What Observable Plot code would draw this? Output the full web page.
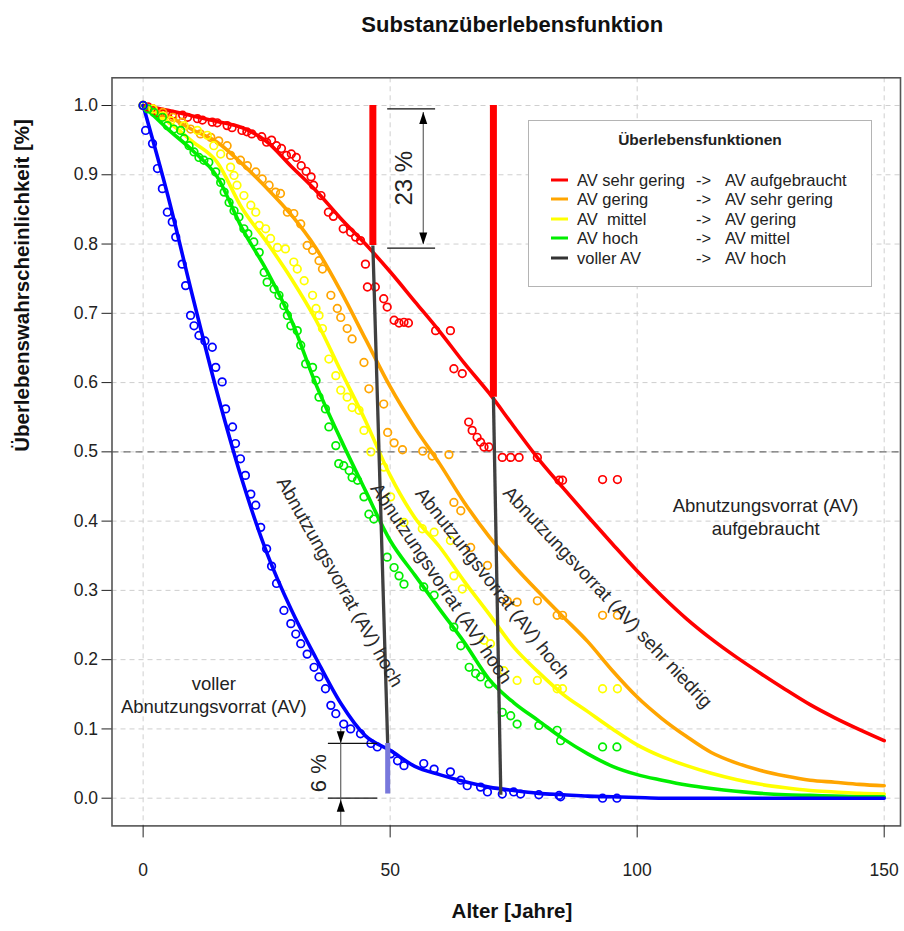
<!DOCTYPE html>
<html>
<head>
<meta charset="utf-8">
<script src="https://cdn.jsdelivr.net/npm/d3@7"></script>
<script src="https://cdn.jsdelivr.net/npm/@observablehq/plot@0.6"></script>
<style>
  body { margin: 0; background: #fff; }
  #wrap { position: relative; width: 904px; height: 931px; overflow: hidden; background: #fff; }
  #legend { position: absolute; left: 528px; top: 120px; width: 344px; height: 167px; box-sizing: border-box;
            border: 1.5px solid #b4b4b4; background: #fff; font-family: "Liberation Sans", Arial, sans-serif; color: #222; }
  #legend .t { position: absolute; white-space: pre; transform: translateY(-50%); font-size: 16.5px; line-height: 1; }
  #legend .sw { position: absolute; height: 3px; width: 17px; transform: translateY(-50%); }
</style>
</head>
<body>
<div id="wrap"></div>
<script>
// ---------------- data ----------------
const chartTitle = "Substanzüberlebensfunktion";
const xLabel = "Alter [Jahre]";
const yLabel = "Überlebenswahrscheinlichkeit [%]";
const xTicks = [0, 50, 100, 150];
const yTicks = [0, 0.1, 0.2, 0.3, 0.4, 0.5, 0.6, 0.7, 0.8, 0.9, 1.0];

// fitted survival curves, sampled every 5 years
const curveAges = [0,5,10,15,20,25,30,35,40,45,50,55,60,65,70,75,80,85,90,95,100,105,110,115,120,125,130,135,140,145,150];
const fitRed    = [1,0.993,0.985,0.977,0.968,0.948,0.912,0.877,0.837,0.8,0.76,0.717,0.674,0.628,0.585,0.537,0.49,0.448,0.407,0.367,0.328,0.292,0.259,0.23,0.204,0.18,0.157,0.135,0.116,0.099,0.083];
const fitOrange = [1,0.985,0.965,0.947,0.916,0.881,0.842,0.794,0.732,0.663,0.594,0.535,0.483,0.427,0.378,0.336,0.298,0.262,0.226,0.184,0.146,0.115,0.089,0.066,0.051,0.04,0.032,0.026,0.023,0.02,0.018];
const fitYellow = [1,0.977,0.948,0.918,0.852,0.803,0.75,0.69,0.617,0.545,0.466,0.405,0.363,0.313,0.266,0.218,0.182,0.15,0.125,0.1,0.077,0.06,0.047,0.036,0.027,0.02,0.015,0.011,0.009,0.007,0.006];
const fitGreen  = [1,0.966,0.935,0.897,0.823,0.762,0.69,0.597,0.518,0.444,0.372,0.322,0.273,0.225,0.172,0.138,0.112,0.086,0.064,0.046,0.034,0.026,0.019,0.014,0.01,0.007,0.005,0.004,0.003,0.002,0.002];
const fitBlue   = [1,0.87,0.725,0.585,0.46,0.355,0.272,0.202,0.137,0.09,0.069,0.046,0.034,0.024,0.016,0.011,0.007,0.005,0.003,0.002,0.001,0,0,0,0,0,0,0,0,0,0];

// observed points [age, probability]
const ptsRed = [[0,1],[1,0.998],[2,0.995],[3,0.99],[4,0.99],[5,0.988],[6,0.987],[8,0.986],[9,0.983],[11,0.981],[12,0.979],[14,0.976],[15,0.975],[17,0.971],[18,0.968],[20,0.964],[21,0.962],[22,0.959],[24,0.955],[25,0.947],[26,0.95],[27,0.942],[28,0.938],[29,0.928],[30,0.93],[31,0.925],[32,0.913],[33,0.905],[34,0.897],[34.5,0.885],[36,0.87],[37.5,0.846],[38.5,0.84],[40.5,0.822],[42,0.817],[43,0.81],[44,0.805],[45,0.771],[45.4,0.738],[47,0.738],[48.7,0.721],[49.4,0.709],[50.8,0.69],[51.8,0.686],[52.8,0.687],[53.7,0.686],[59.2,0.675],[62.2,0.675],[62.9,0.62],[64.6,0.613],[65.9,0.543],[66.6,0.531],[67.6,0.521],[68.3,0.514],[69,0.507],[70,0.507],[72.7,0.492],[74.4,0.492],[76.1,0.492],[79.8,0.492],[84.2,0.459],[84.9,0.459],[93,0.46],[96,0.46]];
const ptsOrange = [[0,1],[2,0.995],[4,0.99],[6,0.983],[7.9,0.976],[9.6,0.966],[11.6,0.959],[13.7,0.954],[15.3,0.949],[17,0.942],[17.7,0.928],[19.7,0.921],[21.1,0.913],[22.8,0.904],[24.1,0.894],[25.5,0.885],[26.8,0.875],[27.8,0.873],[29.2,0.846],[30.5,0.844],[31.9,0.829],[33.2,0.798],[34.3,0.791],[35.6,0.776],[36.3,0.764],[38,0.726],[39.3,0.707],[40,0.694],[41.3,0.678],[42.3,0.663],[44.7,0.629],[45.7,0.591],[48.7,0.569],[49.5,0.528],[50.8,0.513],[52.5,0.503],[56.6,0.501],[58.5,0.494],[61.9,0.496],[62.9,0.427],[64.3,0.415],[66.3,0.362],[69.7,0.336],[73.7,0.285],[75.7,0.283],[79.8,0.285],[83.8,0.264],[84.9,0.264],[93,0.264],[96,0.264]];
const ptsYellow = [[0,1],[2,0.995],[4,0.985],[5.6,0.978],[8.3,0.971],[11,0.964],[13,0.957],[14.3,0.942],[15.7,0.93],[17.7,0.911],[18.4,0.899],[19,0.885],[20.4,0.87],[21.8,0.856],[22.8,0.846],[23.5,0.827],[24.8,0.822],[25.8,0.808],[27.2,0.795],[28.8,0.793],[30.5,0.774],[31.2,0.764],[32.6,0.747],[34.3,0.726],[35,0.707],[35.6,0.697],[36.3,0.678],[37.6,0.634],[39,0.61],[40,0.589],[41.3,0.579],[42.3,0.564],[43.7,0.56],[44.7,0.531],[46.1,0.5],[48.7,0.478],[50.1,0.435],[52.8,0.398],[56.5,0.389],[58.9,0.384],[62.2,0.372],[62.9,0.321],[64.6,0.302],[69,0.228],[70.3,0.223],[73,0.184],[75.7,0.17],[79.8,0.17],[83.8,0.158],[84.9,0.158],[93,0.158],[96,0.158]];
const ptsGreen = [[0,1],[1,0.995],[2.2,0.99],[3.9,0.983],[4.9,0.971],[6.2,0.966],[7.6,0.964],[8.3,0.952],[9.3,0.942],[10.3,0.933],[11.3,0.925],[12.3,0.921],[13.3,0.918],[14.7,0.904],[15.7,0.889],[16.4,0.875],[17.4,0.86],[18.4,0.848],[19.4,0.839],[20.4,0.822],[21.2,0.815],[22.4,0.803],[23.5,0.788],[24.5,0.759],[25.1,0.745],[26.5,0.735],[27.5,0.726],[28.5,0.711],[29.2,0.697],[29.9,0.682],[31.2,0.675],[31.9,0.654],[32.9,0.627],[34.3,0.622],[35,0.603],[35.6,0.579],[36.9,0.562],[37.6,0.536],[39,0.509],[39.6,0.483],[40.6,0.48],[41.7,0.473],[42.3,0.463],[43.4,0.459],[44.7,0.435],[45.7,0.41],[46.7,0.403],[49.4,0.348],[50.8,0.333],[51.8,0.321],[52.8,0.309],[56.8,0.305],[58.9,0.293],[62.9,0.247],[64.3,0.22],[66,0.189],[67.3,0.18],[68.3,0.175],[70,0.165],[72.7,0.124],[74.4,0.119],[75.7,0.107],[80.1,0.105],[83.8,0.098],[84.5,0.083],[93,0.074],[95.9,0.074]];
const ptsBlue = [[0,1],[0.5,0.964],[1.9,0.945],[2.9,0.909],[3.9,0.88],[4.9,0.846],[5.9,0.832],[6.6,0.81],[7.9,0.771],[8.6,0.74],[9.6,0.697],[10.3,0.682],[11.3,0.668],[12.5,0.66],[14,0.651],[14.7,0.622],[16,0.601],[16.7,0.562],[18.1,0.536],[18.7,0.512],[19.7,0.49],[20.7,0.466],[21.8,0.439],[22.8,0.423],[23.8,0.391],[25,0.36],[26,0.335],[27,0.31],[28.5,0.271],[29.9,0.252],[30.9,0.237],[31.9,0.223],[33.2,0.208],[34.6,0.189],[35.6,0.175],[36.9,0.158],[38,0.134],[39,0.122],[40.6,0.107],[42,0.1],[44,0.093],[46.1,0.079],[47.4,0.074],[50.1,0.064],[51.5,0.054],[52.8,0.047],[56.8,0.05],[58.9,0.042],[62.2,0.038],[64.3,0.026],[65.6,0.018],[68.3,0.016],[69.7,0.009],[72.7,0.006],[75,0.009],[76.4,0.006],[80.1,0.005],[84.2,0.004],[84.5,0.002],[93,0],[95.9,0]];

// legend
const legendTitle = "Überlebensfunktionen";
const legendFrom = ["AV sehr gering", "AV gering", "AV  mittel", "AV hoch", "voller AV"];
const legendTo   = ["AV aufgebraucht", "AV sehr gering", "AV gering", "AV mittel", "AV hoch"];
const legendColors = ["#ff0000", "#ffa500", "#ffff00", "#00ee00", "#333333"];

// annotations (data units)
const thresholdBars = [{age: 46.5, top: 1.0, bottom: 0.798}, {age: 70.9, top: 1.0, bottom: 0.579}];
const connectors = [{a1: 46.5, p1: 0.798, a2: 49.5, p2: 0.079}, {a1: 70.9, p1: 0.579, a2: 72.4, p2: 0.005}];
const remainBar = [{age: 49.5, top: 0.079, bottom: 0.006}];
const dimLines = [
  {p: 0.995, a1: 49.5, a2: 59.2}, {p: 0.794, a1: 49.5, a2: 59.2},
  {p: 0.079, a1: 37.5, a2: 47.5}, {p: 0.0, a1: 37.5, a2: 47.5}
];
const dimVerticals = [{age: 56.7, p1: 0.99, p2: 0.8}, {age: 40, p1: 0.1, p2: -0.04}];
const dimHeads = [
  {age: 56.7, p: 0.982, rot: 0}, {age: 56.7, p: 0.808, rot: 180},
  {age: 40, p: 0.088, rot: 180}, {age: 40, p: -0.011, rot: 0}
];
const dimTexts = [{label: "23 %", age: 52.8, p: 0.895}, {label: "6 %", age: 35.5, p: 0.036}];
const flatTexts = [
  {label: "Abnutzungsvorrat (AV)\naufgebraucht", age: 126, p: 0.407},
  {label: "voller\nAbnutzungsvorrat (AV)", age: 14.3, p: 0.150}
];
const slantTexts = [
  {label: "Abnutzungsvorrat (AV) hoch", age: 39.8, p: 0.312, angle: 60.6},
  {label: "Abnutzungsvorrat (AV) hoch", age: 60.3, p: 0.31, angle: 56},
  {label: "Abnutzungsvorrat (AV) hoch", age: 70.7, p: 0.31, angle: 52},
  {label: "Abnutzungsvorrat (AV) sehr niedrig", age: 94, p: 0.29, angle: 46.8}
];

// ---------------- build ----------------
const series = [
  {color: "#ff0000", fit: fitRed, pts: ptsRed},
  {color: "#ffa500", fit: fitOrange, pts: ptsOrange},
  {color: "#ffff00", fit: fitYellow, pts: ptsYellow},
  {color: "#00ee00", fit: fitGreen, pts: ptsGreen},
  {color: "#0000ff", fit: fitBlue, pts: ptsBlue}
];

const narrowTri = {
  draw(context, size) {
    const r = Math.sqrt(size / Math.PI);
    context.moveTo(0, -1.5 * r);
    context.lineTo(1.0 * r, 1.5 * r);
    context.lineTo(-1.0 * r, 1.5 * r);
    context.closePath();
  }
};

const font = "'Liberation Sans', Arial, Helvetica, sans-serif";
const marks = [
  Plot.gridX(xTicks, {stroke: "#cfcfcf", strokeOpacity: 1, strokeDasharray: "5,4"}),
  Plot.gridY(yTicks, {stroke: "#cfcfcf", strokeOpacity: 1, strokeDasharray: "5,4"}),
  Plot.ruleY([0.5], {stroke: "#6e6e6e", strokeWidth: 1.3, strokeDasharray: "7,5"}),
  Plot.frame({stroke: "#555", strokeWidth: 1.6}),
  Plot.axisY(yTicks, {tickSize: 10, tickPadding: 4, tickFormat: d => d.toFixed(1), fontSize: 17.5, label: null, color: "#222"}),
  Plot.axisX(xTicks, {tickSize: 12, tickPadding: 26, tickFormat: d => String(d), fontSize: 17.5, label: null, color: "#222"})
];
for (const s of series) {
  marks.push(Plot.line(curveAges.map((a, i) => ({age: a, p: s.fit[i]})),
    {x: "age", y: "p", stroke: s.color, strokeWidth: 3.6, curve: "monotone-x"}));
}
for (const s of series) {
  marks.push(Plot.dot(s.pts, {x: d => d[0], y: d => d[1], stroke: s.color, fill: "none", r: 3.8, strokeWidth: 1.7}));
}
marks.push(
  Plot.ruleX(thresholdBars, {x: "age", y1: "top", y2: "bottom", stroke: "#ff0000", strokeWidth: 7}),
  Plot.link(connectors, {x1: "a1", y1: "p1", x2: "a2", y2: "p2", stroke: "#404040", strokeWidth: 3.3}),
  Plot.ruleX(remainBar, {x: "age", y1: "top", y2: "bottom", stroke: "#7878dc", strokeWidth: 5}),
  Plot.ruleY(dimLines, {y: "p", x1: "a1", x2: "a2", stroke: "#111", strokeWidth: 1.3}),
  Plot.ruleX(dimVerticals, {x: "age", y1: "p1", y2: "p2", stroke: "#555", strokeWidth: 1.1}),
  Plot.dot(dimHeads, {x: "age", y: "p", rotate: "rot", symbol: narrowTri, r: 4, fill: "#000", stroke: null}),
  Plot.text(dimTexts.slice(0, 1), {x: "age", y: "p", text: "label", rotate: -90, fontSize: 24, fill: "#222"}),
  Plot.text(dimTexts.slice(1), {x: "age", y: "p", text: "label", rotate: -90, fontSize: 22, fill: "#222"}),
  Plot.text(flatTexts, {x: "age", y: "p", text: "label", fontSize: 18.5, lineHeight: 1.22, fill: "#222"}),
  Plot.text(slantTexts, {x: "age", y: "p", text: "label", rotate: "angle", fontSize: 19, fill: "#2a2a2a"}),
  Plot.text([chartTitle], {frameAnchor: "top", dy: -61, dx: 6, fontSize: 22, fontWeight: "bold", fill: "#111"}),
  Plot.text([yLabel], {frameAnchor: "left", dx: -89.5, rotate: -90, fontSize: 20.5, fontWeight: "bold", fill: "#111"}),
  Plot.text([xLabel], {frameAnchor: "bottom", dy: 92.5, dx: 5.7, fontSize: 20.5, fontWeight: "bold", fill: "#111"})
);

const chart = Plot.plot({
  width: 904, height: 931,
  marginLeft: 111.5, marginRight: 4, marginTop: 77.3, marginBottom: 105.6,
  x: {domain: [-6.3, 153.3], axis: null},
  y: {domain: [-0.04, 1.04], axis: null},
  style: {fontFamily: font, background: "#fff", overflow: "hidden"},
  marks
});
const wrap = document.getElementById("wrap");
wrap.appendChild(chart);

// legend box
const lg = document.createElement("div");
lg.id = "legend";
const addText = (txt, left, top, extra) => {
  const d = document.createElement("div");
  d.className = "t";
  d.textContent = txt;
  d.style.left = left + "px";
  d.style.top = top + "px";
  if (extra) Object.assign(d.style, extra);
  lg.appendChild(d);
};
addText(legendTitle, 0, 18.5, {width: "100%", textAlign: "center", fontWeight: "bold", fontSize: "15.5px", left: "0px"});
legendFrom.forEach((f, i) => {
  const y = 58.5 + i * 19.6;
  const sw = document.createElement("div");
  sw.className = "sw";
  sw.style.left = "22px";
  sw.style.top = y + "px";
  sw.style.background = legendColors[i];
  lg.appendChild(sw);
  addText(f, 48, y);
  addText("->", 167, y);
  addText(legendTo[i], 196, y);
});
wrap.appendChild(lg);
</script>
</body>
</html>
